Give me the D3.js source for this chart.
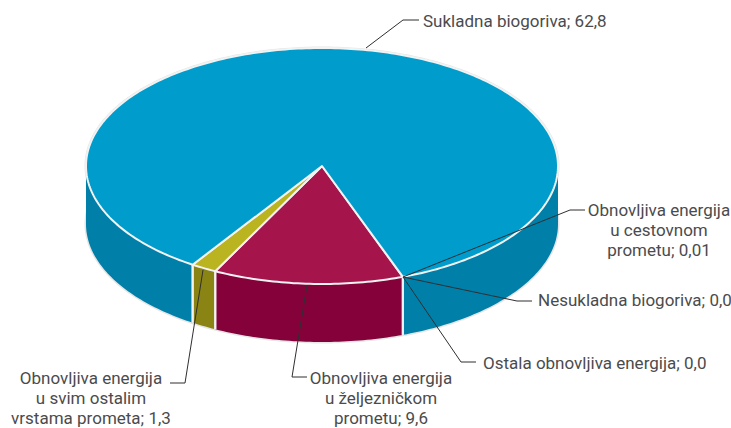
<!DOCTYPE html>
<html><head><meta charset="utf-8">
<script src="https://cdnjs.cloudflare.com/ajax/libs/d3/7.8.5/d3.min.js"></script>
<style>html,body{margin:0;background:#fff}svg{display:block}text{font-family:"Roboto",sans-serif;font-size:17px;font-weight:400;fill:#4b4b4d}</style>
</head><body><svg id="c" width="731" height="428"></svg>
<script>
const categories=["Obnovljiva energija u željezničkom prometu","Obnovljiva energija u svim ostalim vrstama prometa","Sukladna biogoriva","Nesukladna biogoriva","Ostala obnovljiva energija","Obnovljiva energija u cestovnom prometu"];
const values=[9.6,1.3,62.8,0.0,0.0,0.01];
const topColors=["#a5154c","#b9b420","#009ccb","#009ccb","#009ccb","#009ccb"];
const wallColors=["#85013a","#8a8414","#007fa8","#007fa8","#007fa8","#007fa8"];
const labelLines=[["Obnovljiva energija","u željezničkom","prometu; 9,6"],["Obnovljiva energija","u svim ostalim","vrstama prometa; 1,3"],["Sukladna biogoriva; 62,8"],["Nesukladna biogoriva; 0,0"],["Ostala obnovljiva energija; 0,0"],["Obnovljiva energija","u cestovnom","prometu; 0,01"]];
const labelX=[381,91,423,538,483,659];
const labelY=[384,384,27,306,369,216];
const labelAnchor=["middle","middle","start","start","start","middle"];
const leaders=[[[307,285],[292,377],[307,377]],[[203,270],[185,383],[170,383]],[[366,48],[403,20],[419,20]],[[403,277],[517,301],[532,301]],[[403,277],[461,362],[476,362]],[[403,277],[570,210],[585,210]]];

const svg=d3.select("#c");
const x=d3.scaleLinear().domain([-1,1]).range([86,558]);
const y=d3.scaleLinear().domain([-1,1]).range([48,284]);
const depth=58;
const rad=d=>d*Math.PI/180;
const start=rad(160.0);
const pie=d3.pie().sort(null).startAngle(start).endAngle(start+2*Math.PI);
const arcs=pie(values);
const line=d3.line();
const pt=(a,dz=0)=>[x(Math.sin(a)),y(-Math.cos(a))+dz];
function samples(a0,a1){const n=Math.max(2,Math.ceil((a1-a0)/rad(1)));return d3.range(n+1).map(i=>a0+(a1-a0)*i/n);}

const outline=samples(0,2*Math.PI);
svg.append("path").attr("d",line(outline.map(a=>pt(a,depth)))+"Z").attr("fill","#e6e6e6").attr("stroke","#e6e6e6").attr("stroke-width",3);
svg.append("path").attr("d",line(outline.map(a=>pt(a)))+"Z").attr("fill","#e6e6e6").attr("stroke","#e6e6e6").attr("stroke-width",3);

const lo=rad(90),hi=rad(270);
const wallG=svg.append("g");
arcs.forEach((d,i)=>{
  [0,2*Math.PI].forEach(off=>{
    const a0=Math.max(d.startAngle-off,lo),a1=Math.min(d.endAngle-off,hi);
    if(a1<=a0)return;
    const s=samples(a0,a1);
    const pts=s.map(a=>pt(a)).concat(s.slice().reverse().map(a=>pt(a,depth)));
    wallG.append("path").attr("d",line(pts)+"Z").attr("fill",wallColors[i]);
    [a0,a1].forEach(a=>{ if(a>lo+1e-6&&a<hi-1e-6&&values[i]>0.1)
      wallG.append("path").attr("class","seam").attr("d",line([pt(a),pt(a,depth)])).attr("stroke","#f2f2f2").attr("stroke-width",2).attr("fill","none");});
  });
});
wallG.selectAll(".seam").raise();

const topG=svg.append("g");
arcs.forEach((d,i)=>{
  if(d.endAngle-d.startAngle<1e-3)return;
  const pts=[[x(0),y(0)]].concat(samples(d.startAngle,d.endAngle).map(a=>pt(a)));
  topG.append("path").attr("d",line(pts)+"Z").attr("fill",topColors[i]).attr("stroke","#f2f2f2").attr("stroke-width",2).attr("stroke-linejoin","round");
});

svg.append("g").selectAll("path").data(leaders).join("path").attr("d",d=>line(d)).attr("fill","none").attr("stroke","#2f2f31").attr("stroke-width",1);

labelLines.forEach((ls,i)=>{
  const t=svg.append("text").attr("text-anchor",labelAnchor[i]);
  ls.forEach((s,j)=>t.append("tspan").attr("x",labelX[i]).attr("y",labelY[i]+j*20).text(s));
});
</script></body></html>
